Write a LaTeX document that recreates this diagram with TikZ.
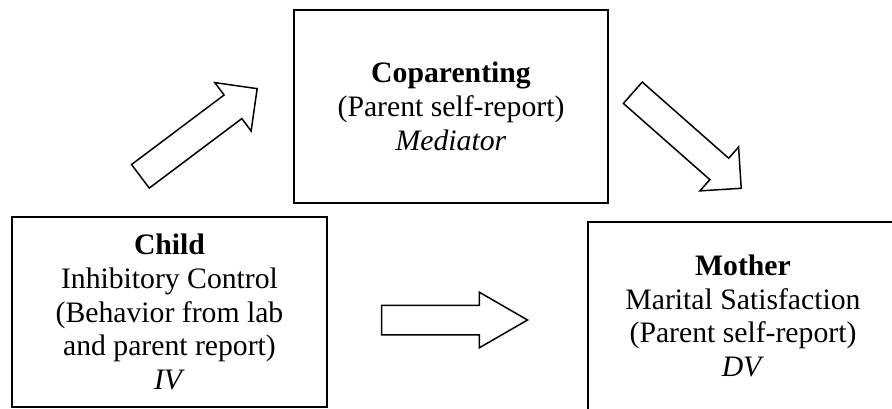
\documentclass[tikz,border=0pt]{standalone}
\usepackage{fontspec}
\setmainfont{Liberation Serif}
\usetikzlibrary{shapes.arrows}

\begin{document}
\begin{tikzpicture}[
    x=1pt, y=-1pt,
    font=\fontsize{29.7}{33.7}\selectfont,
    % Node styles
    box/.style={draw, line width=1.7pt, align=center, inner sep=0pt},
    blockarrow/.style={draw, line width=1.5pt, shape=single arrow, anchor=tip,
        inner xsep=0pt, inner ysep=14pt, single arrow head extend=15pt,
        single arrow tip angle=90},
]
    \useasboundingbox (0,0) rectangle (892,409);
    \clip (0,0) rectangle (892,409);

    % Variables
    \node[box, minimum width=314pt, minimum height=193pt] (cop) at (451,106.5)
        {\textbf{Coparenting}\\(Parent self-report)\\\textit{Mediator}};
    \node[box, minimum width=315pt, minimum height=190pt] (child) at (169.5,312)
        {\textbf{Child}\\Inhibitory Control\\(Behavior from lab\\and parent report)\\\textit{IV}};
    \node[box, minimum width=310pt, minimum height=188pt] (mother) at (743,316)
        {\textbf{Mother}\\Marital Satisfaction\\(Parent self-report)\\\textit{DV}};

    % Paths
    \node[blockarrow, minimum height=146pt, single arrow head extend=15.5pt, rotate=36.9] (toCop) at (258,88) {};
    \node[blockarrow, minimum height=144.5pt, inner ysep=13.5pt, rotate=-41.4] (toMother) at (742,189) {};
    \node[blockarrow, minimum height=146pt, single arrow head extend=13pt, single arrow tip angle=60] (direct) at (529,320) {};

\end{tikzpicture}
\end{document}
